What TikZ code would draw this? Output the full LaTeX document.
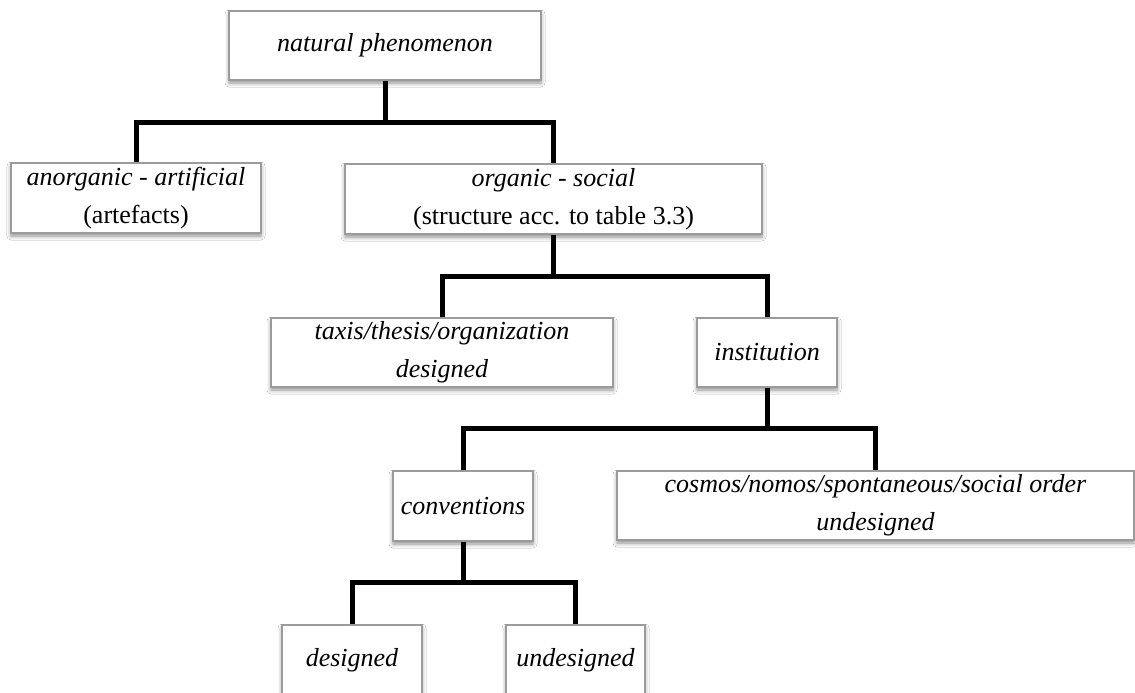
\documentclass[tikz,border=0pt]{standalone}
\usepackage{fontspec}
\setmainfont{Liberation Serif}
\usetikzlibrary{shadows.blur}
\definecolor{boxline}{RGB}{155,155,155}
\tikzset{
  box/.style={draw=boxline, line width=1.3pt, fill=white, inner sep=0pt,
    minimum height=70pt, align=center,
    font=\fontsize{26}{38}\selectfont,
    blur shadow={shadow xshift=0pt, shadow yshift=-3pt,
      shadow blur radius=4pt, shadow opacity=45}},
  conn/.style={line width=5pt, black},
}
\begin{document}
\begin{tikzpicture}[x=1pt,y=-1pt]
\clip (0,0) rectangle (1135,693);
\fill[white] (0,0) rectangle (1135,693);

% boxes of the classification tree
\node[box, minimum width=312pt, minimum height=69pt] (nat) at (385,45.5) {\textit{natural phenomenon}};
\node[box, minimum width=250pt] (anorg) at (136,198) {\textit{anorganic - artificial}\\(artefacts)};
\node[box, minimum width=417pt] (org) at (553.5,199) {\textit{organic - social}\\(structure acc. to table 3.3)};
\node[box, minimum width=342pt, minimum height=69pt] (taxis) at (442,352.5) {\textit{taxis/thesis/organization}\\\textit{designed}};
\node[box, minimum width=140pt, minimum height=69pt] (inst) at (767,352.5) {\textit{institution}};
\node[box, minimum width=140pt] (conv) at (463,506) {\textit{conventions}};
\node[box, minimum width=517pt, minimum height=69pt] (cosmos) at (875.5,505.5) {\textit{cosmos/nomos/spontaneous/social order}\\\textit{undesigned}};
\node[box, minimum width=140pt] (des) at (352,660) {\textit{designed}};
\node[box, minimum width=139pt] (undes) at (575.5,660) {\textit{undesigned}};

% junctions of the branch lines
\coordinate (j1) at (385,122);
\coordinate (j2) at (553.5,276);
\coordinate (j3) at (767,428);
\coordinate (j4) at (463,582);

% branch lines
\draw[conn] (nat.south) -- (j1);
\draw[conn] (anorg.north) |- (j1) -| (org.north);
\draw[conn] (org.south) -- (j2);
\draw[conn] (taxis.north) |- (j2) -| (inst.north);
\draw[conn] (inst.south) -- (j3);
\draw[conn] (conv.north) |- (j3) -| (cosmos.north);
\draw[conn] (conv.south) -- (j4);
\draw[conn] (des.north) |- (j4) -| (undes.north);
\end{tikzpicture}
\end{document}
